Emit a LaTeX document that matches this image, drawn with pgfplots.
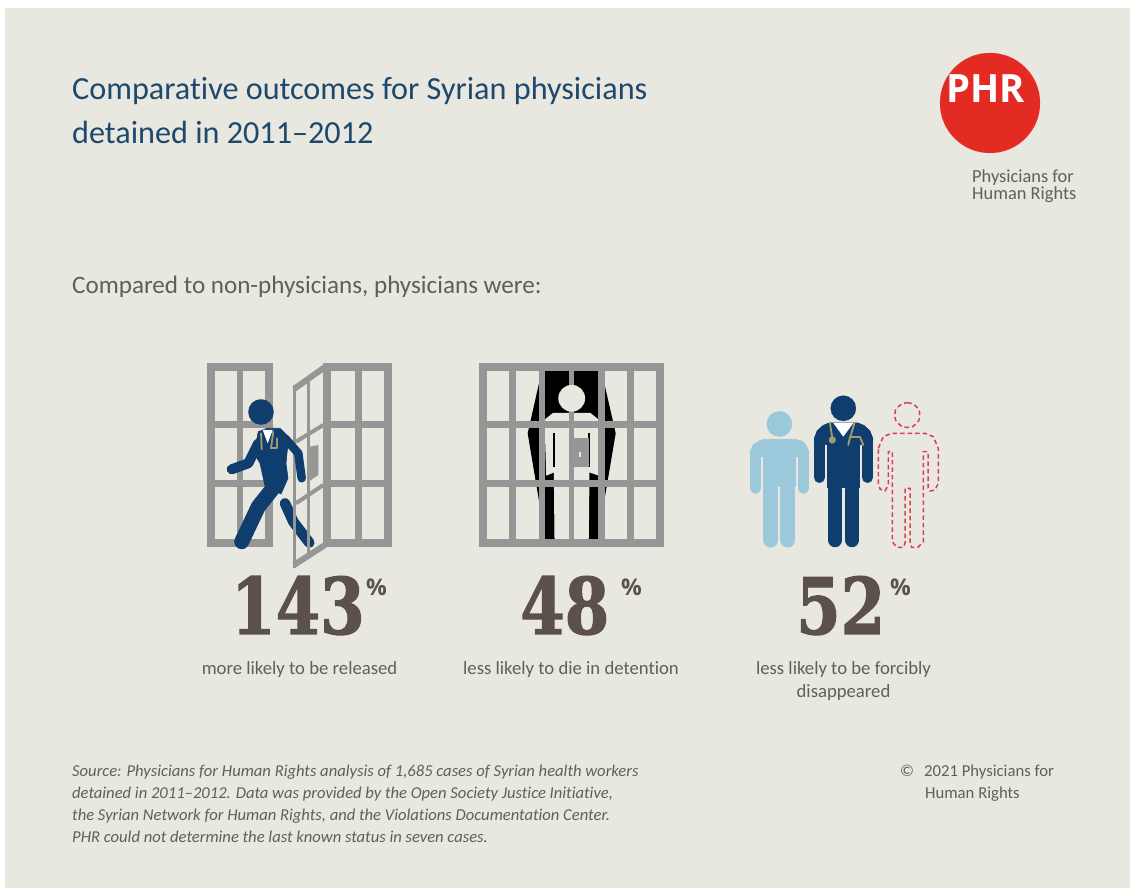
\documentclass[border=0pt]{standalone}
\usepackage{fontspec}
\setmainfont{Carlito}[Ligatures={TeX,NoCommon}]
\newfontfamily\slabfont{DejaVu Serif}[BoldFeatures={FakeBold=1.6}]
\newfontfamily\logofont{Open Sans}
\usepackage{pgfplots}
\pgfplotsset{compat=1.18}
\definecolor{panel}{RGB}{232,232,225}
\definecolor{bars}{RGB}{150,150,150}
\definecolor{navy}{RGB}{15,62,110}
\definecolor{sky}{RGB}{155,200,219}
\definecolor{tan}{RGB}{160,155,115}
\definecolor{dashred}{RGB}{222,60,80}
\definecolor{logored}{RGB}{227,43,36}
\definecolor{titleblue}{RGB}{30,72,108}
\definecolor{bodygrey}{RGB}{95,95,92}
\definecolor{figgrey}{RGB}{92,80,76}
\pgfplotsset{
  frame/.style={draw=bars,line width=8pt,line join=miter},
  grid bar/.style={draw=bars,line width=#1},
  grid bar/.default=6.5pt,
  limb/.style 2 args={draw=#1,line width=#2,line cap=round,line join=round},
  blob/.style={fill=#1,draw=#1,line width=0.6pt,line join=round},
  disc/.style 2 args={only marks,mark=*,mark size=#2,mark options={solid,draw=#1,fill=#1,line width=0.1pt}},
  tube/.style={draw=tan,line width=1.8pt,line cap=round,line join=round},
  outline/.style={draw=dashred,line width=1.5pt,dash pattern=on 4.5pt off 3pt},
}
% text sits above every plotted shape
\newcommand{\txt}[4]{\begin{pgfonlayer}{axis foreground}\node[anchor=#2,inner sep=0pt,text=#3] at (axis cs:#1) {#4};\end{pgfonlayer}}
\newcommand{\bignum}[1]{\scalebox{0.82}[1]{\slabfont\bfseries\fontsize{78}{78}\selectfont #1}}
\newcommand{\pct}{\logofont\bfseries\fontsize{23}{23}\selectfont \%}
\begin{document}
\begin{tikzpicture}
\begin{axis}[
  set layers=standard,
  scale only axis,width=1130pt,height=888pt,
  xmin=0,xmax=1130,ymin=0,ymax=888,y dir=reverse,
  hide axis,clip=false,
]
% page and panel
\addplot[fill=white,draw=none] coordinates {(0,0)(1130,0)(1130,888)(0,888)} --cycle;
\addplot[fill=panel,draw=none] coordinates {(5,8)(1130,8)(1130,888)(5,888)} --cycle;

% logo
\addplot[disc={logored}{50pt}] coordinates {(990,103)};
\txt{946,103}{base west}{white}{\scalebox{0.98}[1]{\logofont\bfseries\fontsize{39}{39}\selectfont PHR}}
\txt{972,183}{base west}{bodygrey}{\fontsize{18.4}{18}\selectfont Physicians for}
\txt{972,200}{base west}{bodygrey}{\fontsize{18.4}{18}\selectfont Human Rights}

% headings
\txt{72,100}{base west}{titleblue}{\fontsize{32.2}{36}\selectfont Comparative outcomes for Syrian physicians}
\txt{72,144}{base west}{titleblue}{\fontsize{32.2}{36}\selectfont detained in 2011--2012}
\txt{72,294}{base west}{bodygrey}{\fontsize{25.1}{30}\selectfont Compared to non-physicians, physicians were:}

% released: fixed window panels
\addplot[frame] coordinates {(210.8,366.7)(269.3,366.7)(269.3,543.3)(210.8,543.3)} --cycle;
\addplot[grid bar] coordinates {(240,366)(240,544)};
\addplot[grid bar=7pt] coordinates {(211,425)(269,425)};
\addplot[grid bar=7pt] coordinates {(211,483.7)(269,483.7)};
\addplot[frame] coordinates {(327.3,366.7)(388,366.7)(388,543.3)(327.3,543.3)} --cycle;
\addplot[grid bar] coordinates {(358.3,366)(358.3,544)};
\addplot[grid bar=7pt] coordinates {(327,425)(388,425)};
\addplot[grid bar=7pt] coordinates {(327,483.7)(388,483.7)};
% rear leg passes behind the open door
\addplot[limb={navy}{10.5pt}] coordinates {(285,503.3)(293.3,521.7)(309.3,542.7)};
% open door
\addplot[grid bar=6pt] coordinates {(294,389)(325,367)};
\addplot[grid bar=6pt] coordinates {(294,565)(325,545)};
\addplot[grid bar=3.5pt] coordinates {(294.3,385)(294.3,568)};
\addplot[grid bar=3pt] coordinates {(308.3,376)(308.3,556)};
\addplot[grid bar=4pt] coordinates {(296,441.7)(323.3,425)};
\addplot[grid bar=4pt] coordinates {(296,503.3)(323.3,485)};
\addplot[fill=bars,draw=none] coordinates {(310,446.7)(318.3,445)(318.3,475)(310,480.7)} --cycle;
% walking physician
\addplot[limb={navy}{10pt}] coordinates {(231.7,469.3)(248.3,463.3)(258.3,443.3)};
\addplot[blob=navy] coordinates {(258.3,431.7)(267.3,428.3)(280,428.3)(290,438.3)(287.3,450)(286,463.3)(288,478.3)(281,494)(265,486)(260,463.3)(254,453.3)} --cycle;
\addplot[limb={navy}{15pt}] coordinates {(277,483.3)(258.3,506.7)(241.7,541.7)};
\addplot[limb={navy}{8.5pt}] coordinates {(285,438.3)(298.3,453.3)(301.7,478.3)};
\addplot[disc={navy}{12.7pt}] coordinates {(261,412)};
\addplot[fill=white,draw=none] coordinates {(262.7,430)(272.7,430)(267.7,443.3)} --cycle;
\addplot[tube] coordinates {(261,433.3)(261.7,449.3)};
\addplot[tube] coordinates {(273.3,431.7)(271,448.3)};
\addplot[tube] coordinates {(271,448.3)(277.3,448.3)(277.3,438.3)};

% died in detention: coffin behind bars
\addplot[fill=black,draw=none] coordinates {(545,366.7)(598.3,366.7)(604.3,383.3)(615.7,433.3)(603.3,506.7)(598.3,546.7)(545,546.7)(540,507)(527.7,433.3)(539,383.3)} --cycle;
\addplot[fill=panel,draw=panel,line width=1pt,line join=round] coordinates {(546.7,475)(545,420)(553.3,413.3)(590,413.3)(598.3,420)(598.3,475)(589,471.7)(588.3,538.3)(555,538.3)(554.3,471.7)} --cycle;
\addplot[disc={panel}{13.3pt}] coordinates {(571.7,398.3)};
\addplot[draw=black,line width=1.5pt] coordinates {(554,433.3)(554,466.7)};
\addplot[draw=black,line width=1.5pt] coordinates {(589,433.3)(589,466.7)};
\addplot[frame] coordinates {(483.2,366.7)(660,366.7)(660,543.3)(483.2,543.3)} --cycle;
\addplot[grid bar] coordinates {(512.5,366)(512.5,544)};
\addplot[grid bar] coordinates {(542,366)(542,547)};
\addplot[grid bar=5.5pt] coordinates {(571.7,366)(571.7,544)};
\addplot[grid bar] coordinates {(601.3,366)(601.3,547)};
\addplot[grid bar] coordinates {(630.7,366)(630.7,544)};
\addplot[grid bar=7pt] coordinates {(483,425)(660,425)};
\addplot[grid bar=7pt] coordinates {(483,484)(660,484)};
\addplot[fill=bars,draw=none] coordinates {(570,438.3)(589,438.3)(589,466.7)(570,466.7)} --cycle;
\addplot[draw=panel,line width=1.5pt] coordinates {(580,452)(580,457)};

% disappeared: three figures
\addplot[disc={sky}{12.7pt}] coordinates {(779.3,424)};
\addplot[blob=sky] coordinates {(750.3,453)(753,445)(760,440.5)(764,439.3)(795,439.3)(802,441)(806,445)(808.7,453)(797.5,456.5)(761,456.5)} --cycle;
\addplot[limb={sky}{11pt}] coordinates {(755.5,451.7)(755.5,488.3)};
\addplot[limb={sky}{11pt}] coordinates {(803.5,451.7)(803.5,488.3)};
\addplot[blob=sky] coordinates {(763.3,440)(795.3,440)(795.3,486)(763.3,486)} --cycle;
\addplot[limb={sky}{15pt}] coordinates {(770.8,490)(770.8,540)};
\addplot[limb={sky}{15pt}] coordinates {(787.8,490)(787.8,540)};

\addplot[disc={navy}{12.7pt}] coordinates {(843.3,408.3)};
\addplot[blob=navy] coordinates {(814.5,440)(817,431)(823,425.5)(829,423)(858,423)(864,425.5)(870,431)(873,440)(860,445)(827,445)} --cycle;
\addplot[limb={navy}{11pt}] coordinates {(819.5,438)(819.5,477.5)};
\addplot[limb={navy}{11pt}] coordinates {(867.5,438)(867.5,477.5)};
\addplot[blob=navy] coordinates {(827.7,424)(859.3,424)(859.3,487)(827.7,487)} --cycle;
\addplot[limb={navy}{14.5pt}] coordinates {(835,490)(835,540)};
\addplot[limb={navy}{14.5pt}] coordinates {(852,490)(852,540)};
\addplot[fill=white,draw=none] coordinates {(833.3,423)(853.3,423)(843.3,436.7)} --cycle;
\addplot[tube] coordinates {(830,423.3)(832.3,438.3)};
\addplot[disc={tan}{3.5pt}] coordinates {(832.3,440)};
\addplot[tube] coordinates {(854.3,423.3)(850,438.3)};
\addplot[tube] coordinates {(848.3,445)(850,437)(860,437)(863.3,445)};

\addplot[outline,mark=none,smooth,tension=1] coordinates {(907.3,402.7)(916,406.3)(919.6,415)(916,423.7)(907.3,427.3)(898.6,423.7)(895,415)(898.6,406.3)(907.3,402.7)};
\addplot[outline] coordinates {(878.3,448.3)(883.3,436.7)(891.7,433.3)(925,433.3)(933.3,436.7)(938.3,448.3)(938.3,483.3)(935,490)(930,491)(928,488)(928,451.7)(923.3,451.7)(923.3,541.7)(918,547.3)(911.7,547.3)(910,543.3)(910,488.3)(905,488.3)(905,543.3)(903.3,547.3)(896.7,547.3)(892.3,541.7)(892.3,451.7)(888.3,451.7)(888.3,485)(885,491)(880,489)(878.3,483.3)} --cycle;

% headline figures
\txt{231,634}{base west}{figgrey}{\bignum{143}}
\txt{366,596}{base west}{figgrey}{\pct}
\txt{520,634}{base west}{figgrey}{\bignum{48}}
\txt{621,596}{base west}{figgrey}{\pct}
\txt{796,634}{base west}{figgrey}{\bignum{52}}
\txt{890,596}{base west}{figgrey}{\pct}

% captions
\txt{299.5,675}{base}{bodygrey}{\fontsize{18.7}{22}\selectfont more likely to be released}
\txt{571,675}{base}{bodygrey}{\fontsize{18.7}{22}\selectfont less likely to die in detention}
\txt{843.5,675}{base}{bodygrey}{\fontsize{18.7}{22}\selectfont less likely to be forcibly}
\txt{843.5,698}{base}{bodygrey}{\fontsize{18.7}{22}\selectfont disappeared}

% source and copyright
\txt{72,777}{base west}{bodygrey}{\itshape\fontsize{16.6}{20}\selectfont Source: Physicians for Human Rights analysis of 1,685 cases of Syrian health workers}
\txt{72,799}{base west}{bodygrey}{\itshape\fontsize{16.6}{20}\selectfont detained in 2011--2012. Data was provided by the Open Society Justice Initiative,}
\txt{72,821}{base west}{bodygrey}{\itshape\fontsize{16.6}{20}\selectfont the Syrian Network for Human Rights, and the Violations Documentation Center.}
\txt{72,843}{base west}{bodygrey}{\itshape\fontsize{16.6}{20}\selectfont PHR could not determine the last known status in seven cases.}
\txt{900,777}{base west}{bodygrey}{\fontsize{16.7}{20}\selectfont ©\hspace{10pt}2021 Physicians for}
\txt{925,799}{base west}{bodygrey}{\fontsize{16.7}{20}\selectfont Human Rights}
\end{axis}
\end{tikzpicture}
\end{document}
